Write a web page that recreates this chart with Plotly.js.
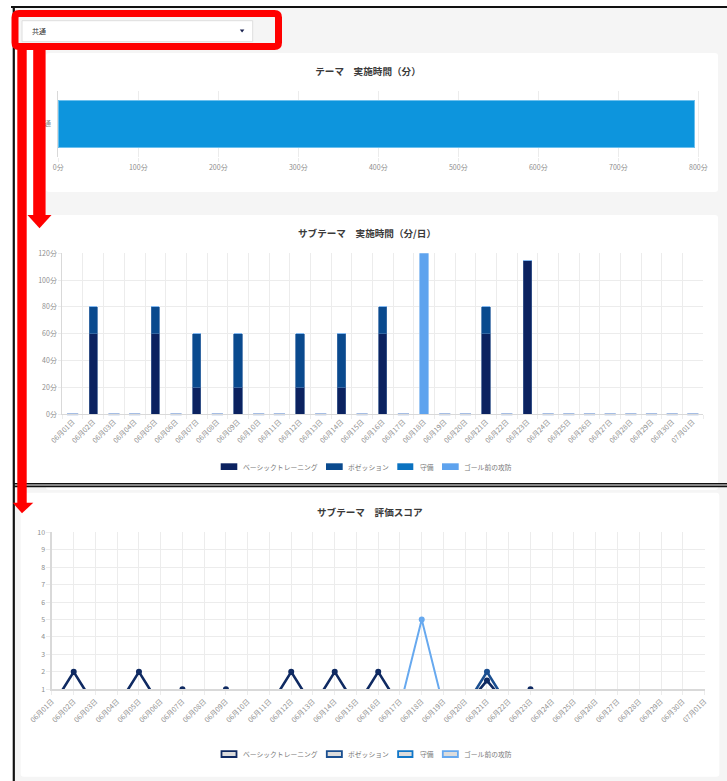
<!DOCTYPE html>
<html>
<head>
<meta charset="utf-8">
<script src="https://cdn.plot.ly/plotly-3.0.1.min.js"></script>
<style>
html,body{margin:0;padding:0;background:#fff;overflow:hidden}
#chart{width:727px;height:781px}
</style>
</head>
<body>
<div id="chart"></div>
<script>
// ---------------- data ----------------
const selectorLabel = '共通';
const themeTitle = 'テーマ　実施時間（分）';
const themeCategories = ['共通'];
const themeMinutes = [795];
const themeTickVals = [0, 100, 200, 300, 400, 500, 600, 700, 800];
const themeTickText = ['0分', '100分', '200分', '300分', '400分', '500分', '600分', '700分', '800分'];

const dailyTitle = 'サブテーマ　実施時間（分/日）';
const dates = ['06月01日','06月02日','06月03日','06月04日','06月05日','06月06日','06月07日','06月08日',
  '06月09日','06月10日','06月11日','06月12日','06月13日','06月14日','06月15日','06月16日','06月17日',
  '06月18日','06月19日','06月20日','06月21日','06月22日','06月23日','06月24日','06月25日','06月26日',
  '06月27日','06月28日','06月29日','06月30日','07月01日'];
const seriesNames = ['ベーシックトレーニング', 'ポゼッション', '守備', 'ゴール前の攻防'];
const minutesBasic      = [0,60,0,0,60,0,20,0,20,0,0,20,0,20,0,60,0,0,0,0,60,0,115,0,0,0,0,0,0,0,0];
const minutesPossession = [0,20,0,0,20,0,40,0,40,0,0,40,0,40,0,20,0,0,0,0,20,0,0,0,0,0,0,0,0,0,0];
const minutesDefense    = [0,0,0,0,0,0,0,0,0,0,0,0,0,0,0,0,0,0,0,0,0,0,0,0,0,0,0,0,0,0,0];
const minutesGoal       = [0,0,0,0,0,0,0,0,0,0,0,0,0,0,0,0,0,120,0,0,0,0,0,0,0,0,0,0,0,0,0];
const minuteTickVals = [0, 20, 40, 60, 80, 100, 120];
const minuteTickText = ['0分', '20分', '40分', '60分', '80分', '100分', '120分'];

const scoreTitle = 'サブテーマ　評価スコア';
const scoreBasic      = [0,2,0,0,2,0,1,0,1,0,0,2,0,2,0,2,0,0,0,0,1.5,0,1,0,0,0,0,0,0,0,0];
const scorePossession = [0,0,0,0,0,0,0,0,0,0,0,0,0,0,0,0,0,0,0,0,2,0,0,0,0,0,0,0,0,0,0];
const scoreDefense    = [0,0,0,0,0,0,0,0,0,0,0,0,0,0,0,0,0,0,0,0,0,0,0,0,0,0,0,0,0,0,0];
const scoreGoal       = [0,0,0,0,0,0,0,0,0,0,0,0,0,0,0,0,0,5,0,0,0,0,0,0,0,0,0,0,0,0,0];
const scoreTickVals = [1,2,3,4,5,6,7,8,9,10];

// ---------------- helpers ----------------
const W = 727, H = 781;
const px = x => x / W;
const py = y => 1 - y / H;
const FONT = "'Noto Sans CJK JP', 'Noto Sans', sans-serif";

const barColors  = ['#0b2260', '#0a4a8e', '#0a72c0', '#5ea3ee'];
const barLines   = ['#3c5a8e', '#3d6ea8', '#3a8ed0', '#86baf2'];
const lineColors = ['#0f2a62', '#1b4f90', '#1177c8', '#67a9ef'];

const minuteSeries = [minutesBasic, minutesPossession, minutesDefense, minutesGoal];
const scoreSeries  = [scoreBasic, scorePossession, scoreDefense, scoreGoal];

const traces = [];

// chart 1
traces.push({
  type: 'bar', orientation: 'h', x: themeMinutes, y: themeCategories,
  xaxis: 'x', yaxis: 'y', width: 0.72,
  marker: {color: '#0d95dd', line: {color: '#6cc0ee', width: 1}},
  showlegend: false, hoverinfo: 'skip'
});

// chart 2
minuteSeries.forEach((vals, k) => {
  traces.push({
    type: 'bar', x: dates, y: vals, xaxis: 'x2', yaxis: 'y2', width: 0.4,
    name: seriesNames[k],
    marker: {color: barColors[k], line: {color: barLines[k], width: 0.8}},
    showlegend: false, hoverinfo: 'skip'
  });
});
const totals = dates.map((d, i) => minuteSeries.reduce((s, a) => s + a[i], 0));
const zeroDates = dates.filter((d, i) => totals[i] === 0);
traces.push({
  type: 'scatter', mode: 'markers', x: zeroDates, y: zeroDates.map(() => 0),
  xaxis: 'x2', yaxis: 'y2', cliponaxis: false,
  marker: {symbol: 'line-ew', size: 8, line: {color: '#6b93d4', width: 1.8}},
  showlegend: false, hoverinfo: 'skip'
});

// chart 3 (reverse order so first series on top)
for (let k = scoreSeries.length - 1; k >= 0; k--) {
  traces.push({
    type: 'scatter', mode: 'lines+markers', x: dates, y: scoreSeries[k],
    xaxis: 'x3', yaxis: 'y3', name: seriesNames[k],
    line: {color: lineColors[k], width: k === 3 ? 2 : 2.6},
    marker: {color: lineColors[k], size: 6},
    showlegend: false, hoverinfo: 'skip'
  });
}

// ---------------- shapes ----------------
function rpath(x0, y0, x1, y1, r) {
  return `M${px(x0 + r)},${py(y0)} L${px(x1 - r)},${py(y0)} Q${px(x1)},${py(y0)} ${px(x1)},${py(y0 + r)} ` +
         `L${px(x1)},${py(y1 - r)} Q${px(x1)},${py(y1)} ${px(x1 - r)},${py(y1)} ` +
         `L${px(x0 + r)},${py(y1)} Q${px(x0)},${py(y1)} ${px(x0)},${py(y1 - r)} ` +
         `L${px(x0)},${py(y0 + r)} Q${px(x0)},${py(y0)} ${px(x0 + r)},${py(y0)} Z`;
}
function rect(x0, y0, x1, y1, fill, layer, line) {
  return {type: 'rect', xref: 'paper', yref: 'paper', x0: px(x0), x1: px(x1), y0: py(y1), y1: py(y0),
          fillcolor: fill, line: line || {width: 0}, layer: layer || 'below'};
}
function poly(pts, fill, layer) {
  const d = pts.map((p, i) => (i ? 'L' : 'M') + px(p[0]) + ',' + py(p[1])).join(' ') + ' Z';
  return {type: 'path', xref: 'paper', yref: 'paper', path: d, fillcolor: fill, line: {width: 0}, layer: layer || 'above'};
}
function hline(x0, x1, y, color, w) {
  return {type: 'line', xref: 'paper', yref: 'paper', x0: px(x0), x1: px(x1), y0: py(y), y1: py(y),
          line: {color: color, width: w}, layer: 'above'};
}
function vline(x, y0, y1, color, w) {
  return {type: 'line', xref: 'paper', yref: 'paper', x0: px(x), x1: px(x), y0: py(y0), y1: py(y1),
          line: {color: color, width: w}, layer: 'above'};
}

const shapes = [];
// backgrounds
shapes.push(rect(12, 8, 727, 484, '#f5f5f5'));
shapes.push(rect(15, 50, 46, 484, '#ffffff'));
shapes.push(rect(15, 486, 727, 781, '#f5f5f5'));
// panels
shapes.push({type: 'path', xref: 'paper', yref: 'paper', path: rpath(46, 53, 718, 192, 3), fillcolor: '#ffffff', line: {width: 0}, layer: 'below'});
shapes.push({type: 'path', xref: 'paper', yref: 'paper', path: rpath(46, 215, 718, 490, 3), fillcolor: '#ffffff', line: {width: 0}, layer: 'below'});
shapes.push({type: 'path', xref: 'paper', yref: 'paper', path: rpath(20.7, 492.7, 719.3, 776.7, 3), fillcolor: '#ffffff', line: {width: 0}, layer: 'below'});
// dropdown
shapes.push(rect(22, 20.7, 252.7, 41.7, '#ffffff', 'below', {color: '#dedede', width: 1}));
shapes.push(poly([[239.8, 29.5], [244.4, 29.5], [242.1, 32.4]], '#1a2350', 'above'));

// legend boxes (chart 2 filled, chart 3 outlined)
const legendBoxes = [[220.7, 237.3], [326, 342.7], [397.3, 413.3], [442, 458.7]];
const legendTextX = [240.7, 345.7, 418, 462];
legendBoxes.forEach((b, k) => {
  shapes.push(rect(b[0], 463.3, b[1], 470, barColors[k], 'below'));
  shapes.push(rect(b[0] + 0.8, 751.2, b[1] - 0.8, 757, '#dcdcdc', 'below', {color: lineColors[k], width: 1.8}));
});

// black frame
shapes.push(hline(11, 727, 7, '#111111', 2));
shapes.push(vline(13.8, 6, 781, '#111111', 2.2));
shapes.push(hline(13, 727, 483.8, '#111111', 1.6));
shapes.push(hline(13, 727, 486.4, '#111111', 1.6));
// red box
shapes.push({type: 'path', xref: 'paper', yref: 'paper', path: rpath(15, 13.5, 278.5, 46.5, 4),
             fillcolor: 'rgba(0,0,0,0)', line: {color: '#ff0000', width: 7}, layer: 'above'});
// red arrows
shapes.push(rect(17.3, 46, 26.7, 504, '#ff0000', 'above'));
shapes.push(poly([[12.7, 502.7], [33.3, 502.7], [22, 513.3]], '#ff0000'));
shapes.push(rect(33.2, 46, 45.6, 216, '#ff0000', 'above'));
shapes.push(poly([[27.5, 215], [51.5, 215], [39.5, 228.3]], '#ff0000'));

// ---------------- annotations ----------------
const annotations = [];
function note(text, x, y, size, color, anchor, bold) {
  annotations.push({text: text, xref: 'paper', yref: 'paper', x: px(x), y: py(y),
    xanchor: anchor || 'center', yanchor: 'middle', showarrow: false,
    font: {family: FONT, size: size, color: color, weight: bold ? 'bold' : 'normal'}});
}
note(selectorLabel, 29.5, 31, 7, '#333333', 'left');
note(dailyTitle, 367.5, 233, 9.6, '#3a3a3a', 'center', true);
note(scoreTitle, 370, 512.3, 9.6, '#3a3a3a', 'center', true);
seriesNames.forEach((n, k) => {
  note(n, legendTextX[k], 466.6, 6.8, '#7a7a7a', 'left');
  note(n, legendTextX[k], 754.2, 6.8, '#7a7a7a', 'left');
});

// ---------------- axes ----------------
const tickFont = {family: FONT, size: 7, color: '#8e8e8e'};
const grid = '#ececec';
const axisLine = '#d9d9d9';

const layout = {
  width: W, height: H,
  margin: {l: 0, r: 0, t: 0, b: 0, pad: 0},
  paper_bgcolor: '#ffffff', plot_bgcolor: 'rgba(0,0,0,0)',
  font: {family: FONT},
  showlegend: false,
  barmode: 'stack',
  title: {text: themeTitle, x: px(368), xanchor: 'center', xref: 'paper', y: py(72), yanchor: 'middle', yref: 'paper',
          font: {family: FONT, size: 9.6, color: '#3a3a3a', weight: 'bold'}},
  xaxis: {domain: [px(58.3), px(708)], range: [0, 812.1], anchor: 'y',
          tickmode: 'array', tickvals: themeTickVals, ticktext: themeTickText,
          showgrid: true, gridcolor: grid, zeroline: false, showline: false,
          ticks: 'outside', ticklen: 4, tickcolor: grid, tickfont: tickFont, fixedrange: true},
  yaxis: {domain: [py(157), py(91)], type: 'category', range: [-0.5, 0.5], anchor: 'x',
          tickson: 'boundaries', showgrid: true, gridcolor: '#e2e2e2', showline: true, linecolor: axisLine,
          ticks: '', ticklabelstandoff: 5, tickfont: tickFont, zeroline: false, fixedrange: true},
  xaxis2: {domain: [px(62.3), px(703.2)], type: 'category', categoryorder: 'array', categoryarray: dates,
           range: [-0.5, 30.5], anchor: 'y2', tickson: 'boundaries',
           showgrid: true, gridcolor: grid, showline: true, linecolor: axisLine,
           ticks: 'outside', ticklen: 4, tickcolor: grid, tickangle: -45, tickfont: tickFont, fixedrange: true},
  yaxis2: {domain: [py(414.3), py(253.3)], range: [0, 120], anchor: 'x2',
           tickmode: 'array', tickvals: minuteTickVals, ticktext: minuteTickText,
           showgrid: true, gridcolor: grid, zeroline: false, showline: true, linecolor: axisLine,
           ticks: 'outside', ticklen: 3, tickcolor: grid, tickfont: tickFont, fixedrange: true},
  xaxis3: {domain: [px(51.95), px(704.5)], type: 'category', categoryorder: 'array', categoryarray: dates,
           range: [0, 30], anchor: 'y3',
           showgrid: true, gridcolor: grid, showline: true, linecolor: axisLine, linewidth: 1.5,
           ticks: 'outside', ticklen: 4, tickcolor: grid, tickangle: -45, tickfont: tickFont, fixedrange: true},
  yaxis3: {domain: [py(689.3), py(532.3)], range: [1, 10], anchor: 'x3',
           tickmode: 'array', tickvals: scoreTickVals,
           showgrid: true, gridcolor: grid, zeroline: false, showline: true, linecolor: axisLine, linewidth: 1.5,
           ticks: 'outside', ticklen: 4, tickcolor: grid, tickfont: tickFont, fixedrange: true},
  shapes: shapes,
  annotations: annotations
};

Plotly.newPlot('chart', traces, layout, {staticPlot: true, displayModeBar: false});
</script>
</body>
</html>
